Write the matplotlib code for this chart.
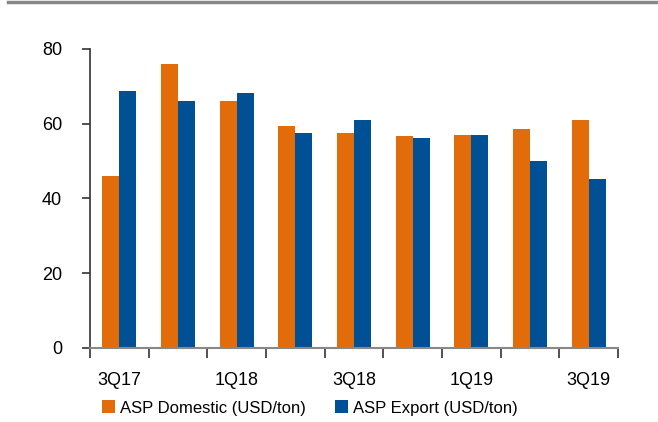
import numpy as np
import matplotlib.pyplot as plt
from matplotlib.lines import Line2D

# quarterly ASP values
quarters = ['3Q17', '4Q17', '1Q18', '2Q18', '3Q18', '4Q18', '1Q19', '2Q19', '3Q19']
asp_domestic = [46.0, 75.9, 66.1, 59.4, 57.5, 56.8, 57.1, 58.6, 60.9]
asp_export = [68.7, 66.2, 68.2, 57.6, 61.0, 56.3, 57.1, 49.9, 45.2]

plt.rcParams['font.family'] = ['Liberation Sans', 'DejaVu Sans']
fs = 13

orange = '#E36C0A'
blue = '#005096'

fig = plt.figure(figsize=(6.58, 4.22), dpi=100)
ax = fig.add_axes([0.1368, 0.1754, 0.8024, 0.7086])

x = np.arange(len(quarters))
w = 0.29
ax.bar(x - w / 2, asp_domestic, w, color=orange, label='ASP Domestic (USD/ton)')
ax.bar(x + w / 2, asp_export, w, color=blue, label='ASP Export (USD/ton)')

ax.set_xlim(-0.5, len(quarters) - 0.5)
ax.set_ylim(0, 80)
ax.set_yticks([0, 20, 40, 60, 80])

# labels every other quarter, tick marks at category boundaries
ax.set_xticks(x[::2])
ax.set_xticklabels(quarters[::2])
ax.set_xticks(np.arange(-0.5, len(quarters)), minor=True)
ax.tick_params(axis='x', which='major', length=0, pad=17, labelsize=fs)
ax.tick_params(axis='x', which='minor', length=7, width=1.2, color='#333333', direction='out')
ax.tick_params(axis='y', length=6, width=1.2, color='#333333', direction='out', pad=14, labelsize=fs)

for s in ['top', 'right']:
    ax.spines[s].set_visible(False)
ax.spines['left'].set_color('#333333')
ax.spines['left'].set_linewidth(1.2)
ax.spines['bottom'].set_color('#888888')
ax.spines['bottom'].set_linewidth(1.5)

fig.legend(loc='center', bbox_to_anchor=(0.471, 0.033), ncol=2, frameon=False,
           fontsize=12, handlelength=0.8, handleheight=0.8, handletextpad=0.3,
           columnspacing=1.7)

# grey rule across the top
fig.add_artist(Line2D([0.012, 1.0], [0.996, 0.996], color='#888888', linewidth=2.5,
                      transform=fig.transFigure))

fig.savefig('out.png', dpi=100)
